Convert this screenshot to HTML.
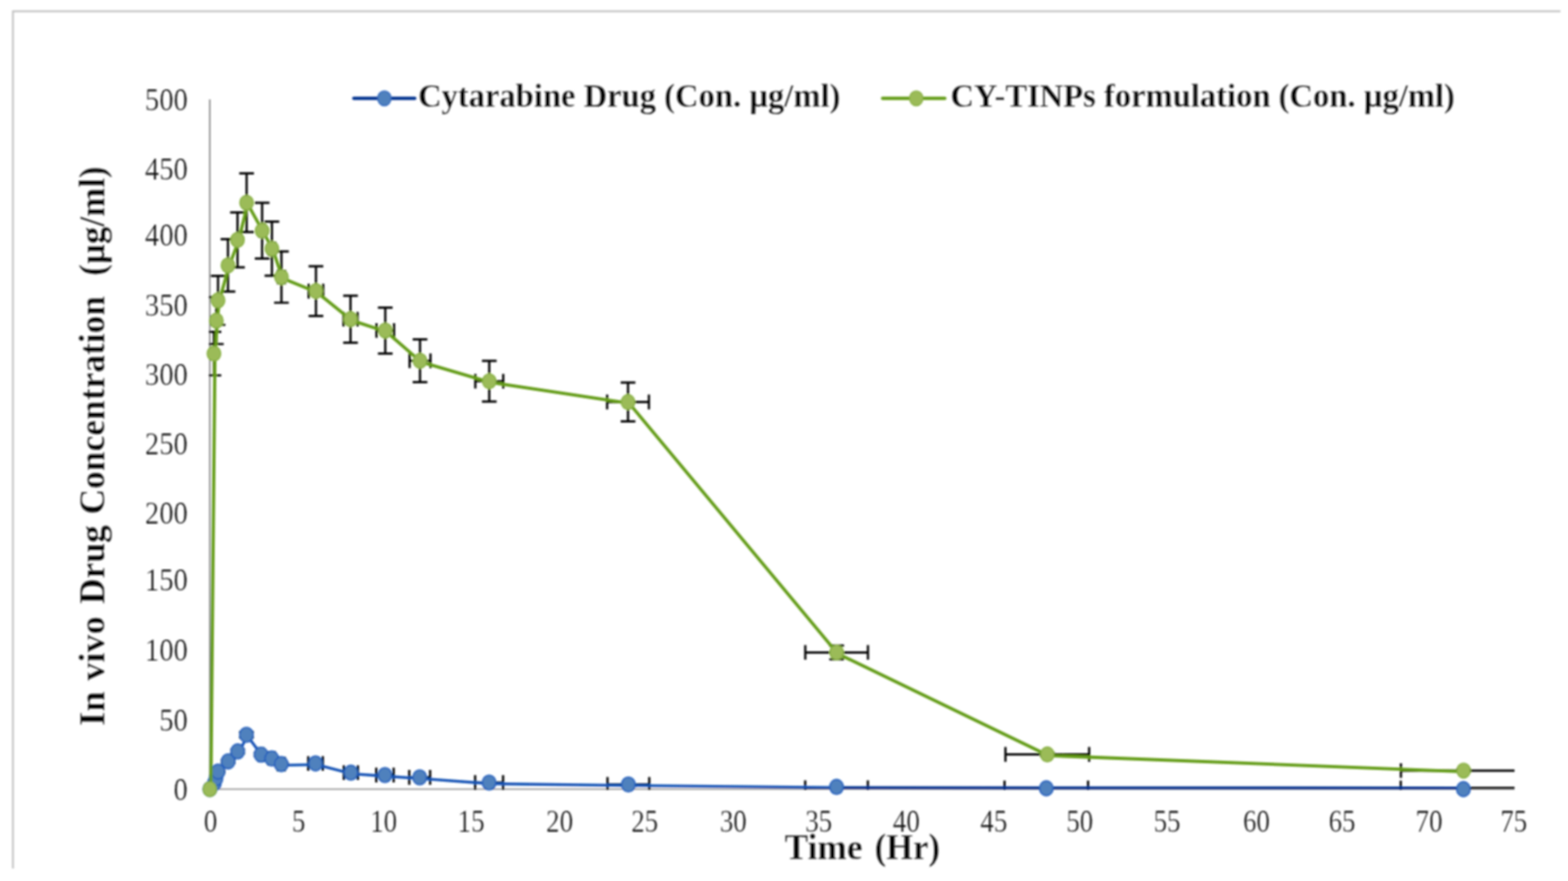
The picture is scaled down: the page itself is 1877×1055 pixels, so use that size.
<!DOCTYPE html>
<html><head><meta charset="utf-8"><title>In vivo Drug Concentration</title>
<style>
html,body{margin:0;padding:0;background:#fff;}
body{width:1877px;height:1055px;overflow:hidden;}
svg{display:block;}
.tick{font-family:"Liberation Serif","Times New Roman",serif;font-size:37px;fill:#000;stroke:#fff;stroke-width:0.2px;}
.ttl{font-family:"Liberation Serif","Times New Roman",serif;font-weight:bold;fill:#000;stroke:#fff;stroke-width:0.3px;}
</style></head>
<body>
<svg width="1877" height="1055" viewBox="0 0 1877 1055">
<defs><filter id="bl" x="0" y="0" width="1877" height="1055" filterUnits="userSpaceOnUse"><feGaussianBlur stdDeviation="1.0"/></filter><clipPath id="pa"><rect x="250" y="118" width="1563.5" height="828"/></clipPath></defs>
<rect width="1877" height="1055" fill="#fff"/>
<g filter="url(#bl)">
<!-- chart area border -->
<path d="M15.5 1040V13.5H1868" fill="none" stroke="#bcbcbc" stroke-width="2"/>
<!-- axes -->
<path d="M251.2 119V945" fill="none" stroke="#7a7a7a" stroke-width="1.6"/><path d="M251 945H1813" fill="none" stroke="#8c8c8c" stroke-width="1.7"/>
<!-- tick labels -->
<g class="tick"><text x="224.7" y="958.2" text-anchor="end" textLength="17.0" lengthAdjust="spacingAndGlyphs">0</text><text x="224.7" y="875.1" text-anchor="end" textLength="34.0" lengthAdjust="spacingAndGlyphs">50</text><text x="224.7" y="791.2" text-anchor="end" textLength="51.1" lengthAdjust="spacingAndGlyphs">100</text><text x="224.7" y="707.1" text-anchor="end" textLength="51.1" lengthAdjust="spacingAndGlyphs">150</text><text x="224.7" y="626.9" text-anchor="end" textLength="51.1" lengthAdjust="spacingAndGlyphs">200</text><text x="224.7" y="544.4" text-anchor="end" textLength="51.1" lengthAdjust="spacingAndGlyphs">250</text><text x="224.7" y="461.3" text-anchor="end" textLength="51.1" lengthAdjust="spacingAndGlyphs">300</text><text x="224.7" y="378.4" text-anchor="end" textLength="51.1" lengthAdjust="spacingAndGlyphs">350</text><text x="224.7" y="294.4" text-anchor="end" textLength="51.1" lengthAdjust="spacingAndGlyphs">400</text><text x="224.7" y="214.9" text-anchor="end" textLength="51.1" lengthAdjust="spacingAndGlyphs">450</text><text x="224.7" y="132.3" text-anchor="end" textLength="51.1" lengthAdjust="spacingAndGlyphs">500</text></g>
<g class="tick"><text x="252.1" y="996" text-anchor="middle" textLength="16.1" lengthAdjust="spacingAndGlyphs">0</text><text x="357.6" y="996" text-anchor="middle" textLength="16.1" lengthAdjust="spacingAndGlyphs">5</text><text x="459.3" y="996" text-anchor="middle" textLength="32.2" lengthAdjust="spacingAndGlyphs">10</text><text x="563.9" y="996" text-anchor="middle" textLength="32.2" lengthAdjust="spacingAndGlyphs">15</text><text x="669.9" y="996" text-anchor="middle" textLength="32.2" lengthAdjust="spacingAndGlyphs">20</text><text x="771.8" y="996" text-anchor="middle" textLength="32.2" lengthAdjust="spacingAndGlyphs">25</text><text x="877.8" y="996" text-anchor="middle" textLength="32.2" lengthAdjust="spacingAndGlyphs">30</text><text x="980.0" y="996" text-anchor="middle" textLength="32.2" lengthAdjust="spacingAndGlyphs">35</text><text x="1084.9" y="996" text-anchor="middle" textLength="32.2" lengthAdjust="spacingAndGlyphs">40</text><text x="1189.7" y="996" text-anchor="middle" textLength="32.2" lengthAdjust="spacingAndGlyphs">45</text><text x="1292.5" y="996" text-anchor="middle" textLength="32.2" lengthAdjust="spacingAndGlyphs">50</text><text x="1397.0" y="996" text-anchor="middle" textLength="32.2" lengthAdjust="spacingAndGlyphs">55</text><text x="1504.1" y="996" text-anchor="middle" textLength="32.2" lengthAdjust="spacingAndGlyphs">60</text><text x="1606.5" y="996" text-anchor="middle" textLength="32.2" lengthAdjust="spacingAndGlyphs">65</text><text x="1710.7" y="996" text-anchor="middle" textLength="32.2" lengthAdjust="spacingAndGlyphs">70</text><text x="1812.0" y="996" text-anchor="middle" textLength="32.2" lengthAdjust="spacingAndGlyphs">75</text></g>
<!-- axis titles -->
<g class="ttl" font-size="44" transform="translate(124.5 869) rotate(-90)"><text x="-0.4" y="0" textLength="41.6" lengthAdjust="spacingAndGlyphs">In</text><text x="53.7" y="0" textLength="77.4" lengthAdjust="spacingAndGlyphs">vivo</text><text x="145.4" y="0" textLength="94.8" lengthAdjust="spacingAndGlyphs">Drug</text><text x="252.9" y="0" textLength="261.8" lengthAdjust="spacingAndGlyphs">Concentration</text><text x="538.8" y="0" textLength="130.9" lengthAdjust="spacingAndGlyphs">(µg/ml)</text></g>
<g class="ttl" font-size="44"><text x="939.3" y="1029" textLength="93.1" lengthAdjust="spacingAndGlyphs">Time</text><text x="1047.1" y="1029" textLength="78.1" lengthAdjust="spacingAndGlyphs">(Hr)</text></g>
<!-- blue series -->
<path clip-path="url(#pa)" d="M261.0 923.0V925.0M252.2 923.0h17.6M252.2 925.0h17.6M273.2 910.0V913.4M264.4 910.0h17.6M264.4 913.4h17.6M272.1 911.7H274.3M272.1 902.9v17.6M274.3 902.9v17.6M284.5 897.5V902.1M275.7 897.5h17.6M275.7 902.1h17.6M282.9 899.8H286.1M282.9 891.0v17.6M286.1 891.0v17.6M295.0 876.6V883.2M286.2 876.6h17.6M286.2 883.2h17.6M292.9 879.9H297.1M292.9 871.1v17.6M297.1 871.1v17.6M312.5 901.5V905.7M303.7 901.5h17.6M303.7 905.7h17.6M309.5 903.6H315.5M309.5 894.8v17.6M315.5 894.8v17.6M325.3 906.5V910.1M316.5 906.5h17.6M316.5 910.1h17.6M321.6 908.3H329.0M321.6 899.5v17.6M329.0 899.5v17.6M336.7 913.5V916.5M327.9 913.5h17.6M327.9 916.5h17.6M332.5 915.0H340.9M332.5 906.2v17.6M340.9 906.2v17.6M377.7 912.7V915.7M368.9 912.7h17.6M368.9 915.7h17.6M369.0 914.2H386.4M369.0 905.4v17.6M386.4 905.4v17.6M420.0 924.3V926.3M411.2 924.3h17.6M411.2 926.3h17.6M411.6 925.3H428.4M411.6 916.5v17.6M428.4 916.5v17.6M460.8 927.3V928.9M452.0 927.3h17.6M452.0 928.9h17.6M450.4 928.1H471.2M450.4 919.3v17.6M471.2 919.3v17.6M489.9 930.9H514.9M489.9 922.1v17.6M514.9 922.1v17.6M568.8 937.1H602.2M568.8 928.3v17.6M602.2 928.3v17.6M727.2 939.4H777.2M727.2 930.6v17.6M777.2 930.6v17.6M963.9 943.4H1038.9M963.9 934.6v17.6M1038.9 934.6v17.6M1202.5 943.5H1302.5M1202.5 934.7v17.6M1302.5 934.7v17.6M1676.8 943.6H1813.0M1676.8 934.8v17.6" fill="none" stroke="#000" stroke-width="2.7"/>
<polyline points="252.4,946.3 257.7,939.4 259.7,933.4 262.2,925.4 274.4,913.1 285.7,901.2 296.2,881.3 313.7,905.0 326.5,909.7 337.9,916.4 378.9,915.6 421.2,926.7 462.0,929.5 503.6,932.3 586.7,938.5 752.2,940.6 1001.4,943.2" fill="none" stroke="#1552b5" stroke-width="3.3" stroke-linejoin="round"/>
<polyline points="1001.4,943.3 1252.5,943.5 1751.8,943.6" fill="none" stroke="#00308f" stroke-width="3.4" stroke-linejoin="round"/>
<g fill="#4f81bd" stroke="#1d5bbd" stroke-width="1.6"><ellipse cx="251.2" cy="944.9" rx="8.1" ry="8.9"/><ellipse cx="256.5" cy="938.0" rx="8.1" ry="8.9"/><ellipse cx="258.5" cy="932.0" rx="8.1" ry="8.9"/><ellipse cx="261.0" cy="924.0" rx="8.1" ry="8.9"/><ellipse cx="273.2" cy="911.7" rx="8.1" ry="8.9"/><ellipse cx="284.5" cy="899.8" rx="8.1" ry="8.9"/><ellipse cx="295.0" cy="879.9" rx="8.1" ry="8.9"/><ellipse cx="312.5" cy="903.6" rx="8.1" ry="8.9"/><ellipse cx="325.3" cy="908.3" rx="8.1" ry="8.9"/><ellipse cx="336.7" cy="915.0" rx="8.1" ry="8.9"/><ellipse cx="377.7" cy="914.2" rx="8.1" ry="8.9"/><ellipse cx="420.0" cy="925.3" rx="8.1" ry="8.9"/><ellipse cx="460.8" cy="928.1" rx="8.1" ry="8.9"/><ellipse cx="502.4" cy="930.9" rx="8.1" ry="8.9"/><ellipse cx="585.5" cy="937.1" rx="8.1" ry="8.9"/><ellipse cx="752.2" cy="939.4" rx="8.1" ry="8.9"/><ellipse cx="1001.4" cy="942.3" rx="8.1" ry="8.9"/><ellipse cx="1252.5" cy="944.0" rx="8.1" ry="8.9"/><ellipse cx="1751.8" cy="945.0" rx="8.1" ry="8.9"/></g>
<!-- green series -->
<path clip-path="url(#pa)" d="M256.1 397.3V449.5M247.3 397.3h17.6M247.3 449.5h17.6M259.0 355.8V412.0M250.2 355.8h17.6M250.2 412.0h17.6M261.0 330.4V389.0M252.2 330.4h17.6M252.2 389.0h17.6M272.9 286.4V349.2M264.1 286.4h17.6M264.1 349.2h17.6M271.9 317.8H273.9M271.9 309.0v17.6M273.9 309.0v17.6M284.3 254.4V320.2M275.5 254.4h17.6M275.5 320.2h17.6M282.7 287.3H285.9M282.7 278.5v17.6M285.9 278.5v17.6M295.2 207.7V277.9M286.4 207.7h17.6M286.4 277.9h17.6M293.0 242.8H297.4M293.0 234.0v17.6M297.4 234.0v17.6M313.8 242.8V309.6M305.0 242.8h17.6M305.0 309.6h17.6M310.7 276.2H316.9M310.7 267.4v17.6M316.9 267.4v17.6M325.5 265.4V330.2M316.7 265.4h17.6M316.7 330.2h17.6M321.8 297.8H329.2M321.8 289.0v17.6M329.2 289.0v17.6M336.9 301.1V362.5M328.1 301.1h17.6M328.1 362.5h17.6M332.7 331.8H341.1M332.7 323.0v17.6M341.1 323.0v17.6M378.2 318.8V378.4M369.4 318.8h17.6M369.4 378.4h17.6M369.5 348.6H386.9M369.5 339.8v17.6M386.9 339.8v17.6M419.6 354.1V410.3M410.8 354.1h17.6M410.8 410.3h17.6M411.2 382.2H428.0M411.2 373.4v17.6M428.0 373.4v17.6M461.2 368.3V423.3M452.4 368.3h17.6M452.4 423.3h17.6M450.7 395.8H471.7M450.7 387.0v17.6M471.7 387.0v17.6M502.8 406.4V457.6M494.0 406.4h17.6M494.0 457.6h17.6M490.3 432.0H515.3M490.3 423.2v17.6M515.3 423.2v17.6M585.7 432.1V480.9M576.9 432.1h17.6M576.9 480.9h17.6M569.0 456.5H602.4M569.0 447.7v17.6M602.4 447.7v17.6M751.8 458.2V504.6M743.0 458.2h17.6M743.0 504.6h17.6M726.8 481.4H776.8M726.8 472.6v17.6M776.8 472.6v17.6M1001.5 773.1V789.5M992.7 773.1h17.6M992.7 789.5h17.6M964.0 781.3H1039.0M964.0 772.5v17.6M1039.0 772.5v17.6M1253.7 901.3V905.5M1244.9 901.3h17.6M1244.9 905.5h17.6M1203.6 903.4H1303.8M1203.6 894.6v17.6M1303.8 894.6v17.6M1752.0 921.7V923.9M1743.2 921.7h17.6M1743.2 923.9h17.6M1677.0 922.8H1813.0M1677.0 914.0v17.6" fill="none" stroke="#000" stroke-width="2.7"/>
<polyline points="252.4,946.3 257.3,424.8 260.2,385.3 262.2,361.1 274.1,319.2 285.5,288.7 296.4,244.2 315.0,277.6 326.7,299.2 338.1,333.2 379.4,350.0 420.8,383.6 462.4,397.2 504.0,433.4 586.9,457.9 753.0,482.8 1002.7,782.7 1254.9,904.8 1753.2,924.2" fill="none" stroke="#649c16" stroke-width="3.8" stroke-linejoin="round"/>
<g fill="#9bbb59" stroke="#82ad3a" stroke-width="1.4"><ellipse cx="251.2" cy="944.9" rx="8.1" ry="8.9"/><ellipse cx="256.1" cy="423.4" rx="8.1" ry="8.9"/><ellipse cx="259.0" cy="383.9" rx="8.1" ry="8.9"/><ellipse cx="261.0" cy="359.7" rx="8.1" ry="8.9"/><ellipse cx="272.9" cy="317.8" rx="8.1" ry="8.9"/><ellipse cx="284.3" cy="287.3" rx="8.1" ry="8.9"/><ellipse cx="295.2" cy="242.8" rx="8.1" ry="8.9"/><ellipse cx="313.8" cy="276.2" rx="8.1" ry="8.9"/><ellipse cx="325.5" cy="297.8" rx="8.1" ry="8.9"/><ellipse cx="336.9" cy="331.8" rx="8.1" ry="8.9"/><ellipse cx="378.2" cy="348.6" rx="8.1" ry="8.9"/><ellipse cx="419.6" cy="382.2" rx="8.1" ry="8.9"/><ellipse cx="461.2" cy="395.8" rx="8.1" ry="8.9"/><ellipse cx="502.8" cy="432.0" rx="8.1" ry="8.9"/><ellipse cx="585.7" cy="456.5" rx="8.1" ry="8.9"/><ellipse cx="751.8" cy="481.4" rx="8.1" ry="8.9"/><ellipse cx="1001.5" cy="781.3" rx="8.1" ry="8.9"/><ellipse cx="1253.7" cy="903.4" rx="8.1" ry="8.9"/><ellipse cx="1752.0" cy="922.8" rx="8.1" ry="8.9"/></g>
<!-- legend -->
<path d="M423.5 117.8H496.5" stroke="#00308f" stroke-width="4" stroke-linecap="round"/>
<ellipse cx="460.1" cy="117.8" rx="8.1" ry="8.9" fill="#4f81bd" stroke="#1d5bbd" stroke-width="1.2"/>
<text class="ttl" font-size="39" x="500.4" y="127.6">Cytarabine Drug (Con. µg/ml)</text>
<path d="M1056.5 117.8H1131" stroke="#649c16" stroke-width="4" stroke-linecap="round"/>
<ellipse cx="1096.8" cy="117.8" rx="8.1" ry="8.9" fill="#9bbb59" stroke="#82ad3a" stroke-width="1.2"/>
<text class="ttl" font-size="39" x="1137.7" y="127.6">CY-TINPs formulation (Con. µg/ml)</text>
</g>
</svg>
</body></html>
